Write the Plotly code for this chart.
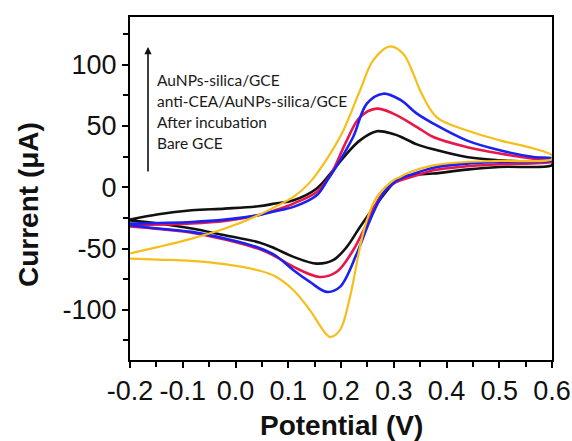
import plotly.graph_objects as go

# ---- data (Potential in V, Current in uA), forward then reverse scan ----
aunps_v = [-0.2, -0.146, -0.083, -0.02, 0.043, 0.075, 0.110, 0.141, 0.173, 0.204, 0.236, 0.261, 0.293, 0.318,
           0.337, 0.35, 0.381, 0.438, 0.501, 0.565, 0.6,
           0.6, 0.5, 0.438, 0.375, 0.331, 0.312, 0.299, 0.268, 0.249, 0.236, 0.217, 0.198, 0.179, 0.166,
           0.141, 0.110, 0.075, 0.045, -0.02, -0.083, -0.146, -0.2]
aunps_i = [-54, -48.7, -41.9, -33.7, -22.8, -16, -7.9, 4.0, 23, 46, 79, 103.6, 115, 109,
           92.7, 79, 57.3, 46.5, 38.3, 31.6, 26,
           23, 21.5, 20.7, 17.9, 12.5, 8.4, 5.7, -7.9, -26.9, -48.7, -89.5, -116.6, -122.1, -116.6,
           -100.3, -84, -72.6, -68, -62.8, -60.1, -59, -58.2]

anti_v = [-0.2, -0.083, -0.02, 0.043, 0.075, 0.110, 0.154, 0.173, 0.189, 0.223, 0.249, 0.28, 0.312, 0.344,
          0.375, 0.438, 0.501, 0.565, 0.6,
          0.6, 0.5, 0.438, 0.375, 0.331, 0.306, 0.28, 0.255, 0.23, 0.198, 0.173, 0.141, 0.110, 0.075,
          0.045, -0.02, -0.083, -0.146, -0.2]
anti_i = [-29.6, -28.3, -26.4, -22.8, -19.6, -16, -6.5, 5.0, 15.5, 41, 68.3, 76.4, 71.5, 60.1,
          52, 38.3, 30.2, 24.7, 23.4,
          22, 20.7, 19.3, 16, 10, 5.7, -5.2, -26.9, -54, -81.3, -85.4, -77.2, -67.7, -55.5,
          -49.5, -41.9, -36.4, -33.7, -31]

incub_v = [-0.2, -0.083, -0.02, 0.043, 0.075, 0.110, 0.154, 0.173, 0.185, 0.211, 0.236, 0.268, 0.299, 0.344,
           0.375, 0.438, 0.501, 0.565, 0.6,
           0.6, 0.5, 0.438, 0.375, 0.344, 0.299, 0.274, 0.249, 0.223, 0.192, 0.160, 0.110, 0.075, 0.045,
           -0.02, -0.083, -0.146, -0.2]
incub_i = [-31, -29.6, -27.5, -22.8, -18.8, -13.3, -3.8, 5.7, 13.9, 38.3, 57.3, 64.2, 60.1, 49.2,
           41, 32.9, 27.5, 23.4, 22,
           21, 18.8, 17.1, 13.9, 9.8, 3, -7.9, -29.6, -51.4, -69, -73.2, -65, -56.3, -50.5,
           -42.7, -37, -34, -32]

bare_v = [-0.2, -0.146, -0.083, -0.02, 0.043, 0.075, 0.110, 0.154, 0.185, 0.211, 0.236, 0.268, 0.299, 0.312,
          0.344, 0.375, 0.438, 0.501, 0.565, 0.6,
          0.6, 0.5, 0.438, 0.375, 0.331, 0.312, 0.299, 0.268, 0.236, 0.211, 0.185, 0.154, 0.110, 0.075,
          0.045, -0.02, -0.083, -0.146, -0.2]
bare_i = [-26.4, -22, -18.8, -17.4, -15.5, -13.3, -10.6, -1, 13.9, 27.5, 38.3, 45.7, 43.5, 41.5,
          35, 31, 24.7, 22, 20.7, 20.5,
          18, 16.6, 14.4, 11.2, 9.8, 7, 3, -13.3, -32.4, -48.7, -59.5, -62.3, -56.8, -50,
          -45, -39.2, -33.7, -29.6, -27]

legend_labels = ["AuNPs-silica/GCE", "anti-CEA/AuNPs-silica/GCE", "After incubation", "Bare GCE"]
x_ticks = [-0.2, -0.1, 0.0, 0.1, 0.2, 0.3, 0.4, 0.5, 0.6]
x_ticktext = ["-0.2", "-0.1", "0.0", "0.1", "0.2", "0.3", "0.4", "0.5", "0.6"]
y_ticks = [-100, -50, 0, 50, 100]
y_ticktext = ["-100", "-50", "0", "50", "100"]

series = [
    (bare_v, bare_i, legend_labels[3], "#111111", 2.6),
    (incub_v, incub_i, legend_labels[2], "#E8174A", 2.6),
    (anti_v, anti_i, legend_labels[1], "#1A22F2", 2.6),
    (aunps_v, aunps_i, legend_labels[0], "#F6BE1A", 2.2),
]

fig = go.Figure()
for v, i, name, col, w in series:
    fig.add_trace(go.Scatter(x=v, y=i, mode="lines", name=name, showlegend=False,
                             line=dict(color=col, width=w, shape="spline", smoothing=1.0)))

L, R, T, B = 130, 20, 17, 81
W, H = 572, 441
pw, ph = W - L - R, H - T - B

def px(x):
    return (x - L) / pw

def py(y):
    return (H - B - y) / ph

font_tick = dict(family="Liberation Sans, Arial, sans-serif", size=27, color="#111")

fig.update_layout(
    width=W, height=H, margin=dict(l=L, r=R, t=T, b=B, autoexpand=False),
    paper_bgcolor="white", plot_bgcolor="white",
    xaxis=dict(range=[-0.2, 0.6], tickvals=x_ticks, ticktext=x_ticktext, automargin=False,
               showline=True, linecolor="black", linewidth=2, mirror=True,
               ticks="outside", ticklen=6, tickwidth=2, tickcolor="black",
               minor=dict(ticks="outside", ticklen=5, tickwidth=2, tickcolor="black", dtick=0.05, showgrid=False),
               showgrid=False, zeroline=False, tickfont=font_tick),
    yaxis=dict(range=[-141, 139], tickvals=y_ticks, ticktext=y_ticktext, automargin=False,
               showline=True, linecolor="black", linewidth=2, mirror=True,
               ticks="outside", ticklen=6, tickwidth=2, tickcolor="black",
               minor=dict(ticks="outside", ticklen=5, tickwidth=2, tickcolor="black", dtick=25, showgrid=False),
               showgrid=False, zeroline=False, tickfont=font_tick),
)

title_font = dict(family="Liberation Sans, Arial, sans-serif", size=28, color="#111")
fig.add_annotation(text="<b>Potential (V)</b>", xref="paper", yref="paper",
                   x=px(341), y=py(425), showarrow=False, font=title_font,
                   xanchor="center", yanchor="middle")
fig.add_annotation(text="<b>Current (μA)</b>", xref="paper", yref="paper",
                   x=px(28), y=py(205), showarrow=False, font=title_font, textangle=-90,
                   xanchor="center", yanchor="middle")

# legend text block
line_y = [80, 101, 122, 143]
for lab, yy in zip(legend_labels, line_y):
    fig.add_annotation(text=lab, xref="paper", yref="paper", x=px(155), y=py(yy),
                       showarrow=False, xanchor="left", yanchor="middle",
                       font=dict(family="Lato, Open Sans, sans-serif", size=15.5, color="#1a1a1a"))

# upward arrow
fig.add_annotation(text="", xref="paper", yref="paper", x=px(148), y=py(47),
                   ax=0, ay=126, axref="pixel", ayref="pixel",
                   showarrow=True, arrowhead=2, arrowsize=0.9, arrowwidth=1.6, arrowcolor="#111")

fig.write_html("out.html")
